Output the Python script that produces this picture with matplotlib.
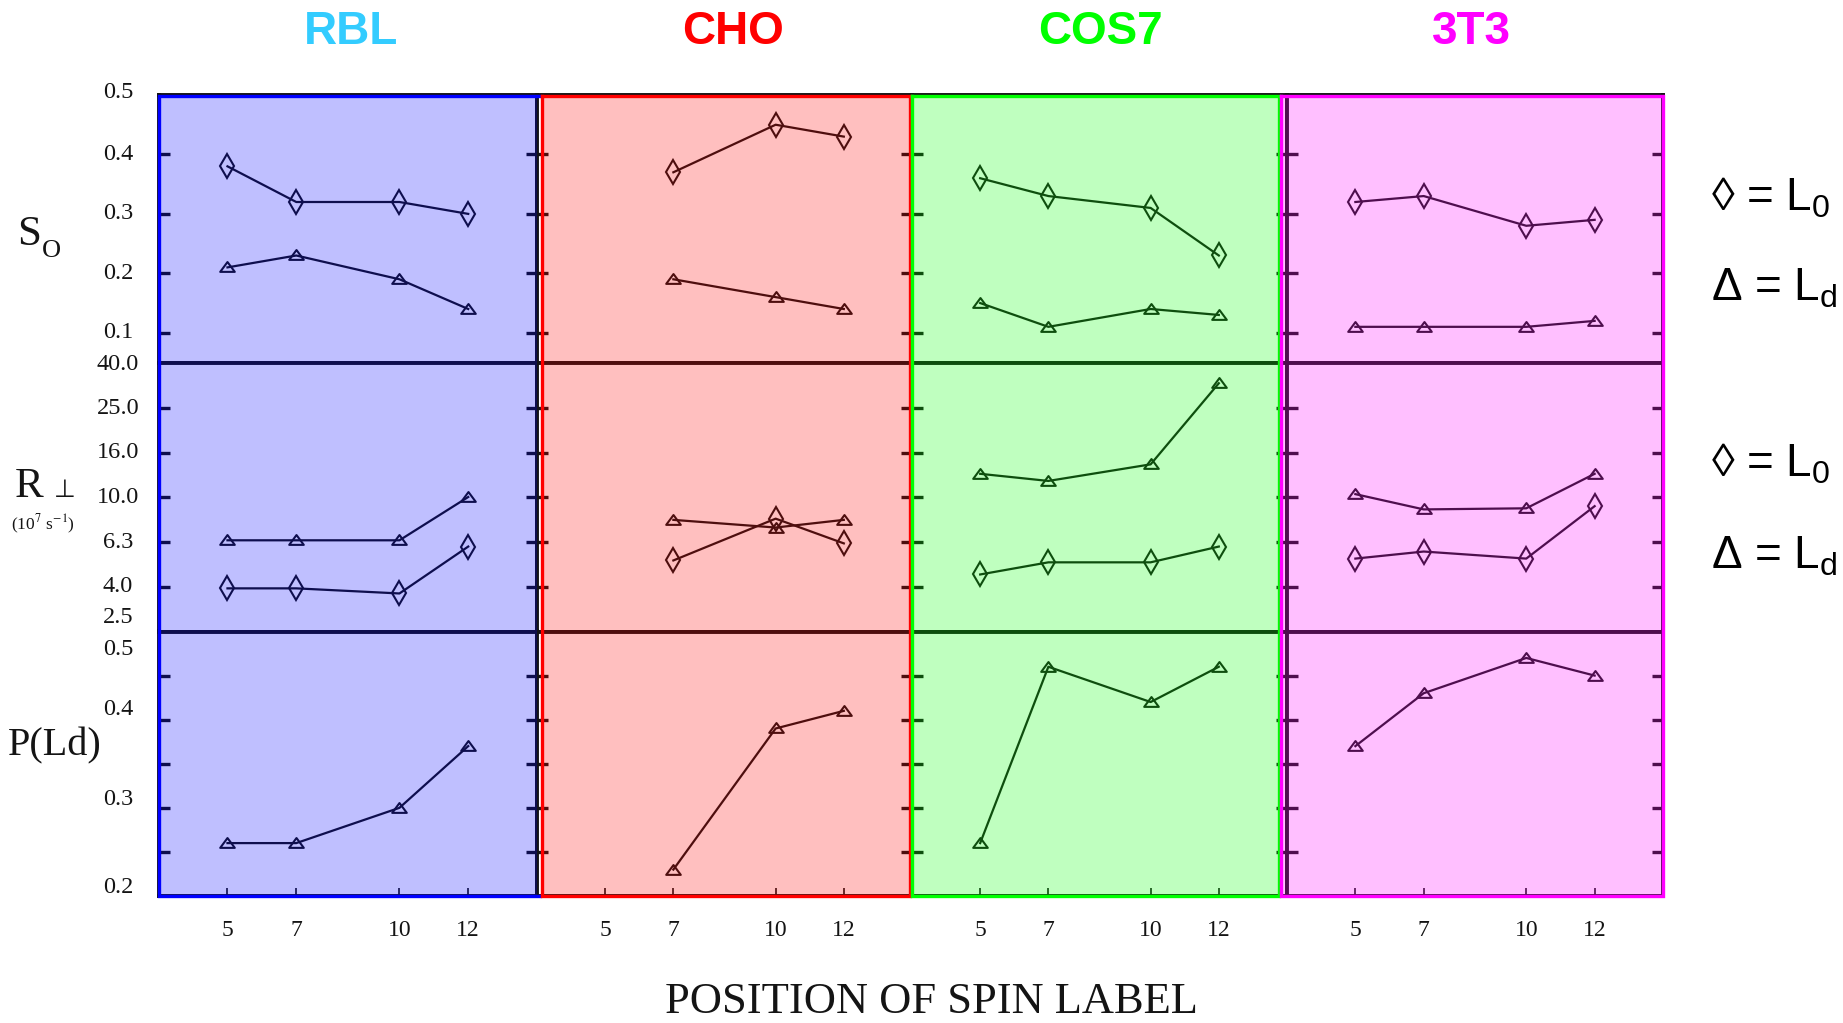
import numpy as np
import matplotlib
matplotlib.use("Agg")
import matplotlib.pyplot as plt
import matplotlib.transforms as mtransforms
from matplotlib.patches import Rectangle
from matplotlib.lines import Line2D
from matplotlib.path import Path
from matplotlib.ticker import NullLocator

plt.rcParams["mathtext.fontset"] = "custom"
plt.rcParams["mathtext.rm"] = "Liberation Sans"
plt.rcParams["mathtext.it"] = "Liberation Sans:italic"

SERIF = ["Liberation Serif", "DejaVu Serif"]
SANS = ["Liberation Sans", "DejaVu Sans"]

# ---------------- data ----------------
nan = np.nan
cell_lines = ["RBL", "CHO", "COS7", "3T3"]
title_colors = ["#33CCFF", "#FF0000", "#00FF00", "#FF00FF"]
overlay_rgb = [(0.0, 0.0, 1.0), (1.0, 0.0, 0.0), (0.0, 1.0, 0.0), (1.0, 0.0, 1.0)]
label_positions = [5, 7, 10, 12]

# order parameter S0
so_L0 = [[0.38, 0.32, 0.32, 0.30],
         [nan, 0.37, 0.45, 0.43],
         [0.36, 0.33, 0.31, 0.23],
         [0.32, 0.33, 0.28, 0.29]]
so_Ld = [[0.21, 0.23, 0.19, 0.14],
         [nan, 0.19, 0.16, 0.14],
         [0.15, 0.11, 0.14, 0.13],
         [0.11, 0.11, 0.11, 0.12]]

# perpendicular rotational rate R (10^7 s^-1)
rperp_L0 = [[3.9, 3.9, 3.7, 6.0],
            [nan, 5.2, 8.0, 6.2],
            [4.5, 5.1, 5.1, 6.0],
            [5.3, 5.7, 5.3, 9.1]]
rperp_Ld = [[6.4, 6.4, 6.4, 10.0],
            [nan, 7.9, 7.3, 7.9],
            [12.7, 11.8, 14.0, 32.3],
            [10.3, 8.8, 8.9, 12.7]]

# population of the Ld component
pld_Ld = [[0.26, 0.26, 0.30, 0.37],
          [nan, 0.23, 0.39, 0.41],
          [0.26, 0.46, 0.42, 0.46],
          [0.37, 0.43, 0.47, 0.45]]

so_label_values = [0.5, 0.4, 0.3, 0.2, 0.1]
so_label_texts = ["0.5", "0.4", "0.3", "0.2", "0.1"]
rperp_label_texts = ["2.5", "4.0", "6.3", "10.0", "16.0", "25.0", "40.0"]
pld_label_values = [0.2, 0.3, 0.4, 0.5]
pld_label_texts = ["0.2", "0.3", "0.4", "0.5"]

# ---------------- layout (pixels) ----------------
W, H, DPI = 1843, 1023, 100
COL_X = [158.7, 537.0, 912.0, 1287.0, 1663.0]
ROW_Y = [95.0, 362.5, 631.5, 896.0]
INK = "#141414"

fig = plt.figure(figsize=(W / DPI, H / DPI), dpi=DPI)
fig.patch.set_facecolor("white")


def fx(px):
    return px / W


def fy(py):
    return 1.0 - py / H


tri_path = Path([(0, 0.75), (-1, -0.6), (1, -0.6), (0, 0.75)],
                [Path.MOVETO, Path.LINETO, Path.LINETO, Path.CLOSEPOLY])

LABEL_AX_X = (118 - COL_X[0]) / (COL_X[1] - COL_X[0])


def draw_ylabels(ax, values, texts, shifts):
    for v, t, s in zip(values, texts, shifts):
        tr = mtransforms.offset_copy(ax.get_yaxis_transform(), fig=fig,
                                     x=0, y=s, units="points")
        ax.text(LABEL_AX_X, v, t, transform=tr, ha="center", va="center",
                fontsize=17.5, family=SERIF, color=INK, clip_on=False)


def series(ax, y, marker, ms):
    ax.plot(label_positions, y, color=INK, lw=1.6, marker=marker, ms=ms,
            mfc="none", mec=INK, mew=1.5, clip_on=False)


rperp_ticks = [2.5 * 10 ** (0.2 * k) for k in range(7)]

for c in range(4):
    for r in range(3):
        x0, x1 = COL_X[c], COL_X[c + 1]
        y0, y1 = ROW_Y[r], ROW_Y[r + 1]
        ax = fig.add_axes([fx(x0), fy(y1), (x1 - x0) / W, (y1 - y0) / H])
        ax.set_facecolor("white")
        ax.set_xlim(3, 14)
        for sp in ax.spines.values():
            sp.set_linewidth(2.8)
            sp.set_color(INK)
        if r == 0:
            ax.set_ylim(0.05, 0.5)
            ax.set_yticks([0.1, 0.2, 0.3, 0.4])
            series(ax, so_L0[c], "d", 12.5)
            series(ax, so_Ld[c], tri_path, 10.5)
            if c == 0:
                draw_ylabels(ax, so_label_values, so_label_texts, [1.5, 0, 0, 0, 0])
        elif r == 1:
            ax.set_yscale("log")
            ax.set_ylim(2.5, 40)
            ax.set_yticks(rperp_ticks[1:-1])
            ax.yaxis.set_minor_locator(NullLocator())
            series(ax, rperp_L0[c], "d", 12.5)
            series(ax, rperp_Ld[c], tri_path, 10.5)
            if c == 0:
                draw_ylabels(ax, rperp_ticks, rperp_label_texts,
                             [10, 0, 0, 0, 0, 0, -0.5])
        else:
            ax.set_ylim(0.2, 0.5)
            ax.set_yticks([0.25, 0.3, 0.35, 0.4, 0.45])
            series(ax, pld_Ld[c], tri_path, 10.5)
            if c == 0:
                draw_ylabels(ax, pld_label_values, pld_label_texts,
                             [6, 6, 7, -13])
        ax.tick_params(axis="y", which="major", direction="in", left=True,
                       right=True, length=8, width=2.4, color=INK,
                       labelleft=False, labelright=False)
        ax.yaxis.set_minor_locator(NullLocator())
        if r == 2:
            ax.set_xticks(label_positions)
            ax.set_xticklabels([str(p) for p in label_positions],
                               fontfamily=SERIF, fontsize=17, color=INK)
            ax.tick_params(axis="x", direction="in", length=6, width=1.2,
                           color=INK, pad=17.5, top=False)
        else:
            ax.set_xticks([])

# ---------------- tinted cell-line panels ----------------
panel_boxes = [(158.5, 95.5, 537.0, 896.0),
               (541.5, 95.5, 910.0, 896.0),
               (912.0, 95.5, 1278.5, 896.0),
               (1280.5, 95.5, 1663.0, 896.0)]

for i, (x0, y0, x1, y1) in enumerate(panel_boxes):
    rgb = overlay_rgb[i]
    fig.add_artist(Rectangle((fx(x0), fy(y1)), (x1 - x0) / W, (y1 - y0) / H,
                             transform=fig.transFigure, facecolor=rgb + (0.25,),
                             edgecolor="none", zorder=20))
    if i == 0:
        pts = [(540.0, y0), (x0, y0), (x0, y1), (540.0, y1)]
    else:
        pts = [(x0, y0), (x1, y0), (x1, y1), (x0, y1), (x0, y0)]
    fig.add_artist(Line2D([fx(p[0]) for p in pts], [fy(p[1]) for p in pts],
                          transform=fig.transFigure, color=rgb, lw=2.4,
                          solid_joinstyle="miter", solid_capstyle="projecting",
                          zorder=21))

# ---------------- titles and labels ----------------
title_cx = [351.4, 733.4, 1100.8, 1471.0]
for name, cx, col in zip(cell_lines, title_cx, title_colors):
    fig.text(fx(cx), fy(44.5), name, ha="center", va="baseline", fontsize=33,
             fontweight="bold", family=SANS, color=col)

fig.text(fx(17), fy(245), "S", fontsize=31, family=SERIF, va="baseline",
         ha="left", color=INK)
fig.text(fx(42), fy(256.7), "O", fontsize=19, family=SERIF, va="baseline",
         ha="left", color=INK)
fig.text(fx(15), fy(497), "R", fontsize=31, family=SERIF, va="baseline",
         ha="left", color=INK)
fig.text(fx(65), fy(497), "⊥", fontsize=18, family=["DejaVu Sans"],
         va="baseline", ha="center", color=INK)
fig.text(fx(11), fy(530), "(10$^{7}$ s$^{-1}$)", fontsize=12.5, family=SERIF,
         math_fontfamily="stix", va="baseline", ha="left", color=INK)
fig.text(fx(8), fy(755), "P(Ld)", fontsize=29, family=SERIF, va="baseline",
         ha="left", color=INK)

legend_lines = [("◊ = L$_\\mathrm{0}$", 210), ("Δ = L$_\\mathrm{d}$", 300),
                ("◊ = L$_\\mathrm{0}$", 477), ("Δ = L$_\\mathrm{d}$", 569)]
for txt, base in legend_lines:
    fig.text(fx(1711), fy(base), txt, fontsize=33, family=SANS,
             math_fontfamily="custom", va="baseline", ha="left", color="black")

fig.text(fx(931), fy(1013), "POSITION OF SPIN LABEL", ha="center",
         va="baseline", fontsize=32, family=SERIF, color=INK)

fig.savefig("out.png", dpi=DPI, facecolor="white")
